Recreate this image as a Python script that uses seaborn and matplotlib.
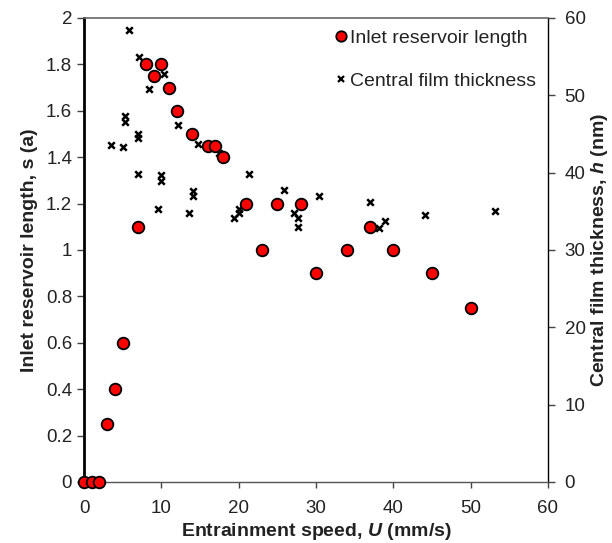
import matplotlib
matplotlib.use("Agg")
import matplotlib.pyplot as plt
import seaborn as sns
import pandas as pd
from matplotlib.lines import Line2D

# Inlet reservoir length data
speed_s = [0, 1, 2, 3, 4, 5, 7, 8, 9, 10, 11, 12, 14, 16, 17, 18, 21, 23, 25, 28, 30, 34, 37, 40, 45, 50]
s_len = [0, 0, 0, 0.25, 0.4, 0.6, 1.1, 1.8, 1.75, 1.8, 1.7, 1.6, 1.5, 1.45, 1.45, 1.4, 1.2, 1.0, 1.2, 1.2, 0.9, 1.0, 1.1, 1.0, 0.9, 0.75]

# Central film thickness data
speed_h = [5.8, 7.1, 10.4, 8.4, 5.3, 5.3, 12.2, 7.0, 7.0, 14.8, 3.5, 5.1, 17.5, 7.0, 9.9, 9.9,
           21.3, 14.1, 14.1, 13.6, 9.6, 20.0, 20.0, 19.4, 25.9, 27.2, 27.7, 27.7, 30.4, 37.0,
           38.9, 38.2, 44.1, 53.2]
h_nm = [58.5, 54.9, 52.8, 50.8, 47.3, 46.5, 46.2, 45.0, 44.5, 43.7, 43.6, 43.3, 42.6, 39.8, 39.7, 38.9,
        39.8, 37.6, 37.0, 34.8, 35.3, 35.3, 34.8, 34.2, 37.8, 34.8, 34.1, 33.0, 37.0, 36.2,
        33.8, 32.8, 34.5, 35.0]

df_s = pd.DataFrame({"U": speed_s, "s": s_len})
df_h = pd.DataFrame({"U": speed_h, "h": h_nm})

sns.set_style("white")
plt.rcParams['font.family'] = ['Liberation Sans', 'DejaVu Sans']
plt.rcParams['mathtext.fontset'] = 'custom'
plt.rcParams['mathtext.bfit'] = 'Liberation Sans:bold:italic'
plt.rcParams['mathtext.it'] = 'Liberation Sans:italic'
plt.rcParams['mathtext.rm'] = 'Liberation Sans'
plt.rcParams['mathtext.bf'] = 'Liberation Sans:bold'

fig = plt.figure(figsize=(6.12, 5.43), dpi=100)
ax = fig.add_axes([84/612, 1-482/543, (548-84)/612, (482-18)/543])
ax2 = ax.twinx()

sns.scatterplot(data=df_h, x="U", y="h", ax=ax2, marker="x", color="black",
                s=22, linewidth=1.8, zorder=3, legend=False)
sns.scatterplot(data=df_s, x="U", y="s", ax=ax, marker="o", color="#ff0000",
                edgecolor="black", s=70, linewidth=1.3, zorder=4, legend=False, clip_on=False)

ax.set_zorder(ax2.get_zorder() + 1)
ax.patch.set_visible(False)

ax.set_xlim(0, 60)
ax.set_ylim(0, 2)
ax2.set_ylim(0, 60)
ax.set_xticks(range(0, 61, 10))
ax.set_yticks([0, 0.2, 0.4, 0.6, 0.8, 1.0, 1.2, 1.4, 1.6, 1.8, 2.0])
ax.set_yticklabels(["0", "0.2", "0.4", "0.6", "0.8", "1", "1.2", "1.4", "1.6", "1.8", "2"])
ax2.set_yticks(range(0, 61, 10))

ax.tick_params(axis="x", bottom=True, top=False, direction="out", length=4, width=1,
               labelsize=13.5, colors="#444444", labelcolor="#222222", pad=9)
ax.tick_params(axis="y", left=True, right=False, direction="out", length=5, width=1,
               labelsize=13.5, colors="#444444", labelcolor="#222222", pad=3.5)
ax2.tick_params(axis="y", right=True, left=False, direction="out", length=5, width=1,
                labelsize=13.5, colors="#444444", labelcolor="#222222", pad=7)

ax.spines["left"].set_linewidth(2)
ax.spines["left"].set_color("black")
ax.spines["bottom"].set_color("#555555")
ax.spines["bottom"].set_linewidth(1)
ax.spines["top"].set_color("#666666")
ax.spines["top"].set_linewidth(1.2)
ax.spines["right"].set_visible(False)
for k in ("left", "bottom", "top"):
    ax2.spines[k].set_visible(False)
ax2.spines["right"].set_color("black")
ax2.spines["right"].set_linewidth(1)

ax.set_xlabel(r"Entrainment speed, $\mathbfit{U}$ (mm/s)", fontsize=14, fontweight="bold", labelpad=3, color="#222222")
ax.set_ylabel("Inlet reservoir length, s (a)", fontsize=14, fontweight="bold", labelpad=6, color="#222222")
ax2.set_ylabel(r"Central film thickness, $\mathbfit{h}$ (nm)", fontsize=14, fontweight="bold", labelpad=2.5, color="#222222")

handles = [
    Line2D([], [], marker="o", linestyle="none", markerfacecolor="#ff0000",
           markeredgecolor="black", markersize=7.5, markeredgewidth=1.3),
    Line2D([], [], marker="x", linestyle="none", color="black", markersize=4.5, markeredgewidth=1.6),
]
leg = ax.legend(handles, ["Inlet reservoir length", "Central film thickness"],
                loc="upper right", bbox_to_anchor=(1.0, 1.0), frameon=False, fontsize=14,
                handletextpad=0.0, labelspacing=1.3, handlelength=1.0, borderaxespad=0.2)
for t in leg.get_texts():
    t.set_color("#222222")

fig.savefig("out.png", dpi=100)
